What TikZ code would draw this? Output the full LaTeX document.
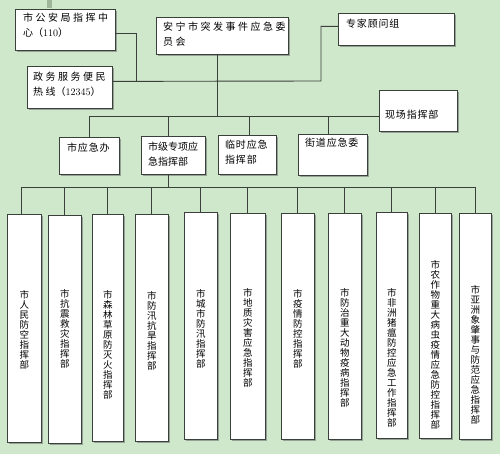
\documentclass[tikz,border=0pt]{standalone}
\usepackage{fontspec}
\newfontfamily\cjkA[LetterSpace=25]{Noto Sans CJK SC}
\newfontfamily\cjkB[LetterSpace=8]{Noto Sans CJK SC}
\newfontfamily\cjk{Noto Sans CJK SC}
\usetikzlibrary{shadows}
\definecolor{bg}{RGB}{207,231,203}
\definecolor{ln}{RGB}{58,64,58}
\definecolor{shd}{RGB}{150,162,150}
\definecolor{bar}{RGB}{158,181,154}
\tikzset{
  box/.style={draw=ln, line width=0.8pt, fill=white, rectangle, inner sep=0pt, anchor=north west,
    drop shadow={shadow xshift=1.2pt, shadow yshift=-1.2pt, fill=shd, opacity=1}},
  conn/.style={draw=ln, line width=0.9pt},
  txtA/.style={font=\cjkA\fontsize{10}{15}\selectfont, anchor=north west, inner sep=0pt, align=left},
  txtB/.style={font=\cjkB\fontsize{10}{15}\selectfont, anchor=north west, inner sep=0pt, align=left},
  txtC/.style={font=\cjk\fontsize{10}{15}\selectfont, anchor=north west, inner sep=0pt, align=left},
  vtxt/.style={font=\cjk\fontsize{9.5}{10}\selectfont, anchor=north, inner sep=0pt, align=center}
}
\newcommand\mybox[6]{\node[box, minimum width=#4pt, minimum height=#5pt] (#1) at (#2,#3) {};}
\newcommand\numpar[1]{{\cjk （}{\rmfamily #1}{\cjk ）}}
\begin{document}
\begin{tikzpicture}[x=1pt,y=-1pt]
\fill[bg] (0,0) rectangle (500,454);
\useasboundingbox (0,0) rectangle (500,454);
\fill[bar] (47,0) rectangle (52,8);
% top boxes
\mybox{gaj}{15}{9}{100}{41}{}
\mybox{zw}{27}{66}{85}{42}{}
\mybox{wy}{156}{17}{132}{37}{}
\mybox{zj}{338}{13}{116}{32}{}
\mybox{xc}{379}{90}{78}{41}{}
% second row
\mybox{yjb}{59}{137}{60}{37}{}
\mybox{zx}{141}{136}{64}{38}{}
\mybox{ls}{218}{135}{58}{39}{}
\mybox{jd}{298}{134}{69}{41}{}
% vertical boxes
\mybox{v1}{7}{214}{34}{228}{}
\mybox{v2}{48}{215}{33}{228}{}
\mybox{v3}{92}{214}{31}{227}{}
\mybox{v4}{135}{214}{33}{227}{}
\mybox{v5}{184}{212}{33}{227}{}
\mybox{v6}{230}{213}{35}{226}{}
\mybox{v7}{281}{213}{33}{226}{}
\mybox{v8}{328}{213}{33}{226}{}
\mybox{v9}{376}{212}{31}{226}{}
\mybox{v10}{419}{213}{32}{225}{}
\mybox{v11}{459}{213}{32}{226}{}
% texts of top boxes
\node[txtA] (tgaj) at (23,13) {市公安局指挥中\\心\numpar{110}};
\node[txtA] (tzw) at (33,72) {政务服务便民\\热线\numpar{12345}};
\node[txtA] (twy) at (163,22) {安宁市突发事件应急委\\员会};
\node[txtB] (tzj) at (346,19) {专家顾问组};
\node[txtB] (txc) at (385,110) {现场指挥部};
\node[txtB] (tyjb) at (67,143) {市应急办};
\node[txtC] (tzx) at (148,142) {市级专项应\\急指挥部};
\node[txtB] (tls) at (225,140) {临时应急\\指挥部};
\node[txtB] (tjd) at (305,138) {街道应急委};
% vertical texts
\node[vtxt] (tv1) at (v1.north |- 0,290) {市\\人\\民\\防\\空\\指\\挥\\部};
\node[vtxt] (tv2) at (v2.north |- 0,289) {市\\抗\\震\\救\\灾\\指\\挥\\部};
\node[vtxt] (tv3) at (v3.north |- 0,290) {市\\森\\林\\草\\原\\防\\灭\\火\\指\\挥\\部};
\node[vtxt] (tv4) at (v4.north |- 0,291) {市\\防\\汛\\抗\\旱\\指\\挥\\部};
\node[vtxt] (tv5) at (v5.north |- 0,289) {市\\城\\市\\防\\汛\\指\\挥\\部};
\node[vtxt] (tv6) at (v6.north |- 0,288) {市\\地\\质\\灾\\害\\应\\急\\指\\挥\\部};
\node[vtxt] (tv7) at (v7.north |- 0,289) {市\\疫\\情\\防\\控\\指\\挥\\部};
\node[vtxt] (tv8) at (v8.north |- 0,288) {市\\防\\治\\重\\大\\动\\物\\疫\\病\\指\\挥\\部};
\node[vtxt] (tv9) at (v9.north |- 0,288) {市\\非\\洲\\猪\\瘟\\防\\控\\应\\急\\工\\作\\指\\挥\\部};
\node[vtxt] (tv10) at (v10.north |- 0,260) {市\\农\\作\\物\\重\\大\\病\\虫\\疫\\情\\应\\急\\防\\控\\指\\挥\\部};
\node[vtxt] (tv11) at (v11.north |- 0,285) {市\\亚\\洲\\象\\肇\\事\\与\\防\\范\\应\\急\\指\\挥\\部};
% connectors
\coordinate (ja) at (136,81);
\coordinate (jb) at (321,81);
\coordinate (busA) at (0,116);
\coordinate (busB) at (0,187);
\draw[conn] ([yshift=-3.5pt]gaj.east) -| (ja);
\draw[conn] ([yshift=6pt]zw.east) -- (jb) |- ([yshift=3pt]zj.west);
\draw[conn] ([xshift=-5pt]wy.south) -- ([xshift=-5pt]wy.south |- busA);
\draw[conn] (yjb.north |- busA) -- (xc.west |- busA);
\draw[conn] (yjb.north |- busA) -- (yjb.north);
\draw[conn] ([xshift=-5pt]zx.north |- busA) -- ([xshift=-5pt]zx.north);
\draw[conn] ([xshift=2pt]ls.north |- busA) -- ([xshift=2pt]ls.north);
\draw[conn] ([xshift=-4.5pt]jd.north |- busA) -- ([xshift=-4.5pt]jd.north);
\draw[conn] ([xshift=-5pt]zx.south) -- ([xshift=-5pt]zx.south |- busB);
\draw[conn] ([xshift=-3pt]v1.north |- busB) -- (v11.north |- busB);
\draw[conn] ([xshift=-3pt]v1.north |- busB) -- ([xshift=-3pt]v1.north);
\foreach \v in {v2,v3,v4,v5,v6,v7,v8,v9,v10,v11}
  \draw[conn] (\v.north |- busB) -- (\v.north);
\end{tikzpicture}
\end{document}
